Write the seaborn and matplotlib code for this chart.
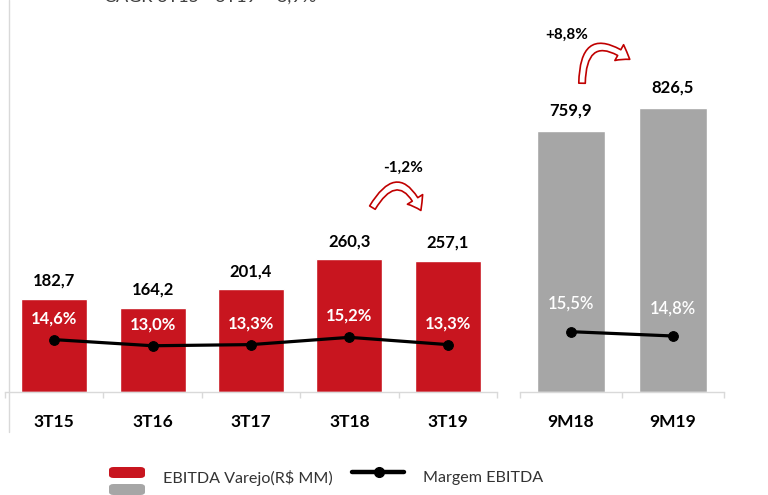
import matplotlib
matplotlib.use("Agg")
import matplotlib.pyplot as plt
import matplotlib.patches as mpatches
from matplotlib.lines import Line2D
import numpy as np
import seaborn as sns

# quarterly data (left panel)
quarters = ["3T15", "3T16", "3T17", "3T18", "3T19"]
ebitda_q = [182.7, 164.2, 201.4, 260.3, 257.1]
margin_q = [14.6, 13.0, 13.3, 15.2, 13.3]

# nine-month data (right panel)
periods = ["9M18", "9M19"]
ebitda_9m = [759.9, 826.5]
margin_9m = [15.5, 14.8]

var_q = "-1,2%"
var_9m = "+8,8%"
cagr_text = "CAGR 3T15 - 3T19 = 8,9%"

RED = "#c8151f"
GRAY = "#a6a6a6"
AXIS = "#d9d9d9"
W, H = 768, 495

sns.set_theme(style="white")
plt.rcParams["font.family"] = ["Lato", "DejaVu Sans"]


def br(v):
    return f"{v:.1f}".replace(".", ",")


def px_x(x):
    return x / W


def px_y(y):
    return (H - y) / H


fig = plt.figure(figsize=(W / 100, H / 100), dpi=100)
base = 391.7
ax1 = fig.add_axes([px_x(5), px_y(base), 492 / W, base / H])
ax2 = fig.add_axes([px_x(520), px_y(base), 204 / W, base / H])


def style_axis(ax, n):
    for s in ["top", "left", "right"]:
        ax.spines[s].set_visible(False)
    ax.spines["bottom"].set_color(AXIS)
    ax.spines["bottom"].set_linewidth(1)
    ax.set_xlim(-0.5, n - 0.5)
    ax.set_yticks([])
    ax.set_xlabel("")
    ax.set_ylabel("")
    ax.set_xticks(np.arange(-0.5, n, 1.0), minor=True)
    ax.tick_params(axis="x", which="major", length=0, pad=16,
                   labelsize=12.5, labelcolor="black")
    ax.tick_params(axis="x", which="minor", length=4, color=AXIS,
                   width=1, direction="out", bottom=True)
    for lab in ax.get_xticklabels():
        lab.set_fontweight("bold")


def panel(ax, cats, vals, margins, color, ylim, mlim, val_off, pct_off,
          pct_weight):
    sns.barplot(x=cats, y=vals, color=color, saturation=1, width=0.67,
                ax=ax)
    ax.set_ylim(*ylim)
    for i, v in enumerate(vals):
        ax.annotate(br(v), (i, v), xytext=(0, val_off),
                    textcoords="offset points", ha="center", va="center",
                    fontsize=12, fontweight="bold", color="black")
    style_axis(ax, len(cats))
    tw = ax.twinx()
    sns.lineplot(x=np.arange(len(margins)), y=margins, color="black",
                 linewidth=2.3, marker="o", markersize=7,
                 markeredgecolor="black", ax=tw)
    tw.set_ylim(*mlim)
    tw.set_xlim(-0.5, len(cats) - 0.5)
    tw.axis("off")
    for i, m in enumerate(margins):
        tw.annotate(br(m) + "%", (i, m), xytext=(0, pct_off),
                    textcoords="offset points", ha="center", va="center",
                    fontsize=12, fontweight=pct_weight, color="white")
    return tw


panel(ax1, quarters, ebitda_q, margin_q, RED, (0, 769), (1.0, 103.3),
      13, 15.5, "bold")
panel(ax2, periods, ebitda_9m, margin_9m, GRAY, (0, 1142), (5.73, 69.5),
      15, 20, "semibold")

# curved variation arrows
ident = matplotlib.transforms.IdentityTransform()
arrow_style = "simple,head_length=0.5,head_width=0.72,tail_width=0.26"
for (x0, y0), (x1, y1), rad in [((371, 210), (422, 213), -1.0),
                                ((582, 86), (632, 61), -1.0)]:
    arr = mpatches.FancyArrowPatch((x0, H - y0), (x1, H - y1),
                                   connectionstyle=f"arc3,rad={rad}",
                                   arrowstyle=arrow_style, mutation_scale=18,
                                   facecolor="white", edgecolor="#c00000",
                                   linewidth=1.2, transform=ident)
    fig.add_artist(arr)

fig.text(px_x(403), px_y(168), var_q, ha="center", va="center",
         fontsize=11, fontweight="bold", color="black")
fig.text(px_x(567), px_y(35), var_9m, ha="center", va="center",
         fontsize=11, fontweight="bold", color="black")

# CAGR text, cut off at the top edge as in the source slide
fig.text(px_x(210), px_y(-3.5), cagr_text, ha="center", va="center",
         fontsize=13, color="#404040")

# left border line
fig.add_artist(Line2D([px_x(8.5)] * 2, [1, px_y(432)], color=AXIS, lw=1,
                      transform=fig.transFigure))

# legend
for y0, c in [(467, RED), (484, GRAY)]:
    fig.add_artist(mpatches.FancyBboxPatch(
        (px_x(109), px_y(y0 + 11)), 36 / W, 11 / H,
        boxstyle="round,pad=0,rounding_size=0.006", facecolor=c,
        edgecolor="none", transform=fig.transFigure))
fig.text(px_x(163), px_y(478), "EBITDA Varejo(R$ MM)", ha="left",
         va="center", fontsize=11.6, color="#333333")
fig.add_artist(Line2D([px_x(352), px_x(404)], [px_y(472)] * 2,
                      color="black", lw=3.2, transform=fig.transFigure))
fig.add_artist(Line2D([px_x(379)], [px_y(472)], color="black", marker="o",
                      markersize=7, transform=fig.transFigure))
fig.text(px_x(423), px_y(478), "Margem EBITDA", ha="left", va="center",
         fontsize=11.6, color="#333333")

fig.savefig("out.png", dpi=100)
